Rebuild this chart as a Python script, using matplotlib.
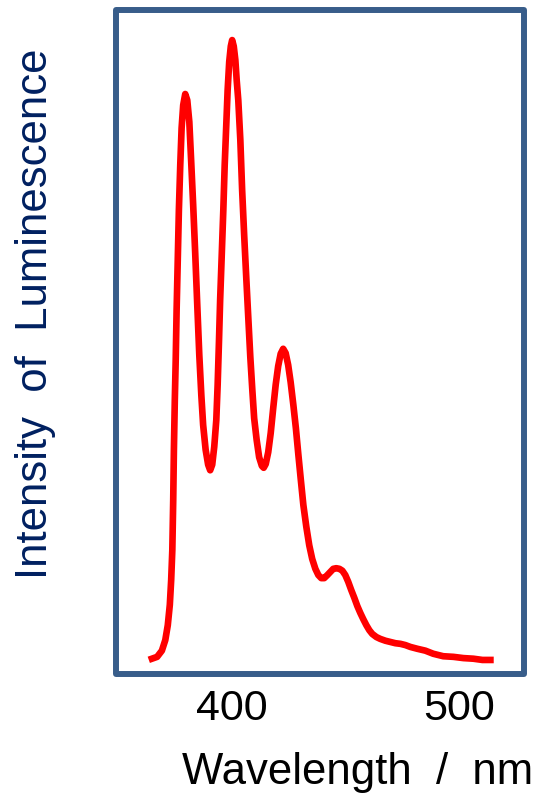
import matplotlib
matplotlib.use("Agg")
import matplotlib.pyplot as plt
from matplotlib.patches import Rectangle

# emission spectrum (wavelength in nm, relative intensity)
wavelength = [364.7, 367.0, 369.1, 370.6, 371.7, 372.6, 373.2, 373.7, 374.1, 374.4,
              374.8, 375.2, 375.6, 376.1, 376.6, 377.2, 377.8, 378.5, 379.4, 380.3,
              381.2, 382.0, 382.9, 383.8, 384.7, 385.6, 386.5, 387.3, 388.4, 389.5,
              390.4, 391.3, 392.2, 393.1, 393.7, 394.3, 394.8, 395.5, 396.2, 396.8,
              397.5, 398.1, 398.8, 399.5, 400.1, 400.8, 401.5, 402.1, 402.8, 403.7,
              404.5, 405.4, 406.3, 407.2, 408.1, 409.0, 409.8, 410.9, 412.0, 413.2,
              414.0, 414.9, 416.0, 417.1, 418.2, 419.3, 420.4, 421.5, 422.6, 423.7,
              424.8, 425.9, 427.1, 428.2, 429.3, 430.4, 431.5, 432.8, 434.1, 435.4,
              436.8, 438.1, 439.4, 440.7, 442.1, 443.4, 444.7, 446.0, 447.4, 448.7,
              450.0, 451.3, 452.6, 454.0, 455.3, 456.6, 457.9, 459.3, 460.6, 461.9,
              463.7, 465.4, 467.7, 469.9, 472.1, 474.3, 476.5, 478.7, 481.8, 485.3,
              488.8, 493.2, 497.7, 502.1, 506.5, 510.5, 514.0]
intensity = [0.2, 0.5, 1.5, 3.2, 5.6, 8.9, 12.9, 17.7, 25.8, 33.9,
             41.9, 48.4, 56.5, 64.5, 72.6, 79.8, 85.8, 89.5, 91.3, 90.3,
             86.8, 80.6, 73.4, 65.6, 57.3, 49.2, 42.7, 37.9, 33.9, 31.5,
             30.6, 31.5, 34.4, 38.7, 44.4, 51.6, 58.1, 65.3, 72.6, 79.8,
             86.3, 91.9, 96.5, 99.0, 100.0, 99.0, 96.8, 93.5, 90.3, 83.9,
             75.8, 68.5, 61.8, 55.3, 48.9, 43.5, 39.0, 35.5, 32.7, 31.3,
             31.0, 31.6, 33.5, 36.6, 40.6, 44.4, 47.4, 49.4, 50.2, 49.5,
             47.6, 44.8, 41.1, 37.4, 33.1, 29.0, 25.0, 21.5, 18.5, 16.3,
             14.7, 13.7, 13.2, 13.2, 13.7, 14.2, 14.7, 14.8, 14.7, 14.4,
             13.7, 12.6, 11.3, 10.0, 8.7, 7.6, 6.6, 5.6, 4.8, 4.2,
             3.7, 3.4, 3.1, 2.9, 2.7, 2.6, 2.4, 2.1, 1.8, 1.5,
             1.0, 0.6, 0.5, 0.3, 0.2, 0.0, 0.0]
xticks = [400, 500]

plt.rcParams["font.family"] = ["Liberation Sans", "DejaVu Sans"]

fig = plt.figure(figsize=(5.39, 8.01), dpi=100)
ax = fig.add_axes([0.2158, 0.1586, 0.7571, 0.8293])

ax.plot(wavelength, intensity, color="#ff0000", linewidth=4.8, solid_joinstyle="round")

ax.set_xlim(349, 529)
ax.set_ylim(-2.26, 104.9)

# frame drawn as one rectangle so the corners join cleanly
for s in ax.spines.values():
    s.set_visible(False)
ax.add_patch(Rectangle((0, 0), 1, 1, transform=ax.transAxes, fill=False,
                       edgecolor="#385D8A", linewidth=4.3, joinstyle="round",
                       clip_on=False, zorder=5))

ax.set_xticks(xticks)
ax.set_xticklabels([str(t) for t in xticks])
ax.set_yticks([])
ax.tick_params(axis="x", length=0, pad=10.5, labelsize=31)

ax.set_xlabel("Wavelength  /  nm", fontsize=31.5)
ax.xaxis.set_label_coords(0.59, -0.117)
ax.set_ylabel("Intensity  of  Luminescence", fontsize=31.5, color="#002060")
ax.yaxis.set_label_coords(-0.148, 0.542)

fig.savefig("out.png", dpi=100)
